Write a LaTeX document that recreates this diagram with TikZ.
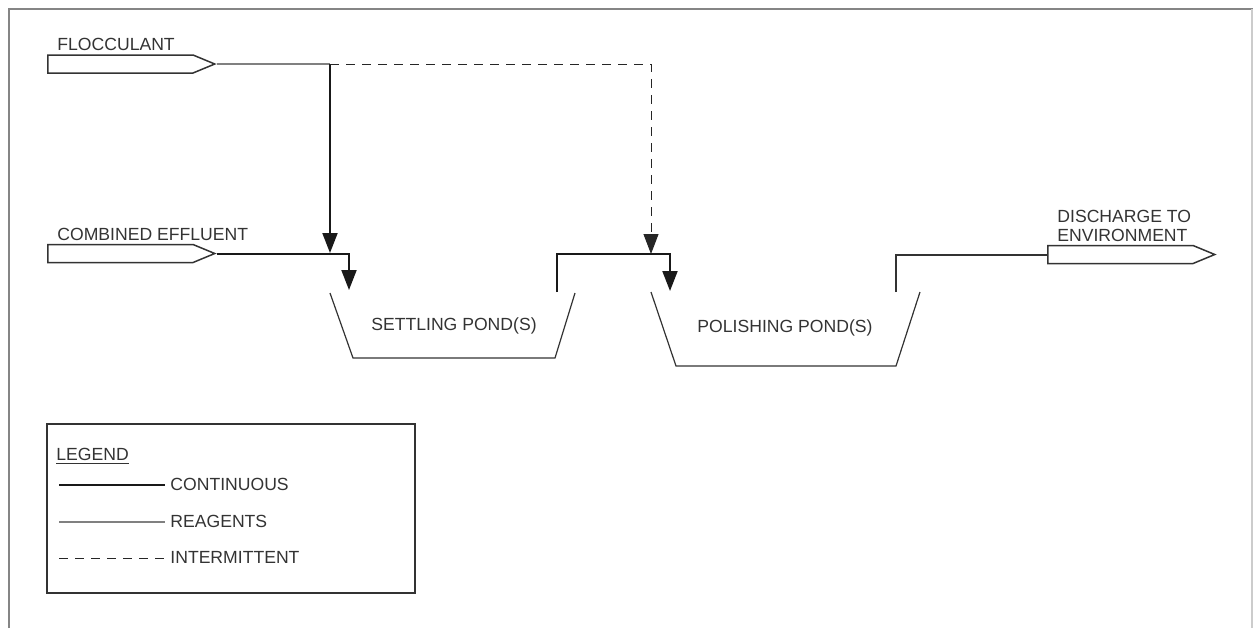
\documentclass[tikz,border=0pt]{standalone}
\usepackage{fontspec}
\setmainfont{Liberation Sans}
\usetikzlibrary{arrows.meta,shapes.symbols}
\newdimen\unitsize
\setlength{\unitsize}{0.5pt}
\definecolor{inkgray}{HTML}{333333}
\definecolor{reagentgray}{HTML}{808080}
\definecolor{framegray}{HTML}{858585}
\tikzset{
  lbl/.style={inner sep=0pt,text=inkgray,font=\fontsize{8.8}{9.5}\selectfont},
  feed/.style={signal,signal to=east,signal pointer angle=45,draw=inkgray,
    line width=0.75pt,inner sep=0pt,anchor=west,
    minimum width=167\unitsize,minimum height=18\unitsize},
  cont/.style={line width=1pt,black!90},
  reagent/.style={line width=1pt,reagentgray},
  intermit/.style={line width=0.5pt,black!85,dash pattern=on 4.5pt off 3.5pt},
  pond/.style={line width=0.6pt,inkgray},
  flowtip/.style={-{Triangle[length=10pt,width=7.5pt]}},
}

\begin{document}
\begin{tikzpicture}[x=\unitsize,y=-\unitsize]
\useasboundingbox (0,0) rectangle (1253,628);
% frame
\draw[framegray,line width=1.2pt] (9,628) -- (9,9) -- (1253,9);
\draw[black!20,line width=0.8pt] (1252,9) -- (1252,628);

% feeds and discharge
\node[feed] (floc) at (47,64) {};
\node[lbl,anchor=base west] (floclbl) at (57,50) {FLOCCULANT};
\node[feed] (eff) at (47,253.5) {};
\node[lbl,anchor=base west] (efflbl) at (57,240) {COMBINED EFFLUENT};
\node[feed] (dis) at (1047,254.5) {};
\node[lbl,anchor=south west,align=left] (dislbl) at (1057,242)
  {DISCHARGE TO\\ENVIRONMENT};

% ponds
\coordinate (setIn) at (330,293);
\coordinate (setOut) at (575,293);
\coordinate (polIn) at (651,292);
\coordinate (polOut) at (920,292);
\draw[pond] (setIn) -- (353,358) -- (555,358) -- (setOut);
\draw[pond] (polIn) -- (676,366) -- (896,366) -- (polOut);
\node[lbl] (setlbl) at (454,326) {SETTLING POND(S)};
\node[lbl] (pollbl) at (785,328) {POLISHING POND(S)};

% flows
\coordinate (split) at (330,64);
\coordinate (mix) at (330,253);
\coordinate (setDrop) at (349,290);
\coordinate (setRise) at (557,292);
\coordinate (polDrop) at (670,291);
\coordinate (polRise) at (896,292);
\coordinate (polJoin) at (651,254);
\draw[reagent] (floc.east) -- (split);
\draw[cont,flowtip] (split) -- (mix);
\draw[intermit,flowtip] (split) -| (polJoin);
\draw[cont,flowtip] (eff.east) -| (setDrop);
\draw[cont,flowtip] (setRise) |- (polJoin) -| (polDrop);
\draw[cont,black!80] (polRise) |- (dis.west);

% legend
\draw[line width=0.8pt,inkgray] (47,424) rectangle (415,593);
\node[lbl,anchor=base west] (lgtitle) at (56,460) {\underline{LEGEND}};
\foreach \lgy/\lgstyle/\lgtext in {485/cont/CONTINUOUS,522/reagent/REAGENTS,558/intermit/INTERMITTENT}{
  \coordinate (lgA\lgy) at (59,\lgy);
  \node[lbl,anchor=base west] (lg\lgy) at (170,\lgy+5) {\lgtext};
  \draw[\lgstyle] (lgA\lgy) -- ([xshift=-5\unitsize]lg\lgy.west |- lgA\lgy);
}
\end{tikzpicture}
\end{document}
